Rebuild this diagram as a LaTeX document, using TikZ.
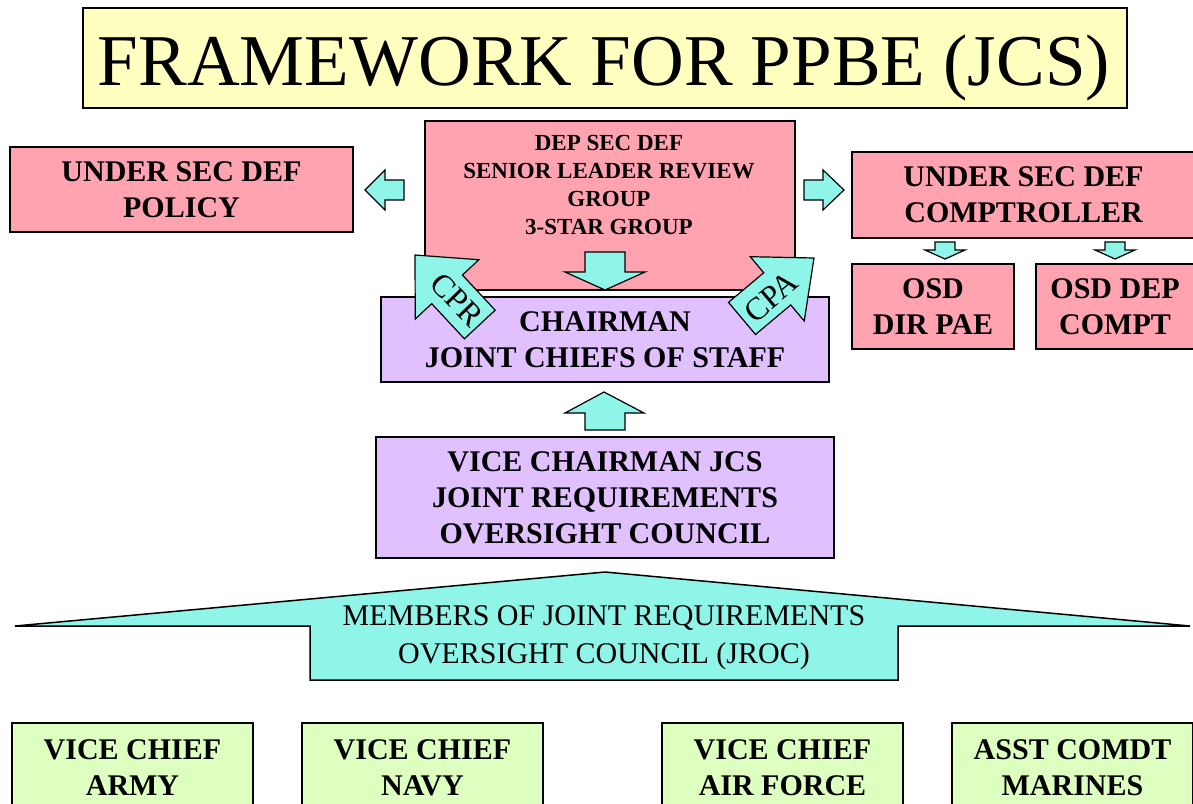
\documentclass[tikz,border=0pt]{standalone}
\usepackage{fontspec}
\setmainfont{Liberation Serif}
\definecolor{pinkc}{RGB}{255,163,177}
\definecolor{purplec}{RGB}{224,192,255}
\definecolor{cyanc}{RGB}{143,245,232}
\definecolor{greenc}{RGB}{221,255,192}
\definecolor{yellowc}{RGB}{255,255,192}
\begin{document}
\begin{tikzpicture}[x=1pt,y=-1pt,
  box/.style={draw=black, line width=1.5pt, inner sep=0pt, align=center,
    font=\bfseries\fontsize{30}{36}\selectfont},
  pinkbox/.style={box, fill=pinkc},
  purplebox/.style={box, fill=purplec},
  greenbox/.style={box, fill=greenc, minimum width=241, minimum height=90},
  blockarrow/.style={draw=black, line width=1.2pt, fill=cyanc, line join=miter},
  arrowlabel/.style={font=\fontsize{32}{34}\selectfont, inner sep=0pt}]
\useasboundingbox (0,0) rectangle (1193,803);
\clip (0,0) rectangle (1193,803);
% title
\node[draw=black, line width=1.5pt, fill=yellowc, minimum width=1044, minimum height=100, inner sep=0pt] (title) at (605,58) {};
\node[anchor=base, inner sep=0pt, font=\fontsize{73}{80}\selectfont] (titletext) at (604,85) {FRAMEWORK FOR PPBE (JCS)};
% top row
\node[pinkbox, minimum width=343, minimum height=85] (policy) at (181.5,189.5) {UNDER SEC DEF\\POLICY};
\node[pinkbox, minimum width=370, minimum height=169] (dsd) at (610,205.5) {};
\node[inner sep=0pt, align=center, font=\bfseries\fontsize{23}{28}\selectfont] (dsdtext) at (609,184.5)
  {DEP SEC DEF\\SENIOR LEADER REVIEW\\GROUP\\3-STAR GROUP};
\node[pinkbox, minimum width=343, minimum height=86] (compt) at (1023.5,195) {UNDER SEC DEF\\COMPTROLLER};
\node[pinkbox, minimum width=162, minimum height=85] (pae) at (933,306.5) {OSD\\DIR PAE};
\node[pinkbox, minimum width=158, minimum height=85] (depcompt) at (1115,306.5) {OSD DEP\\COMPT};
% chairman and vice chairman
\node[purplebox, minimum width=448, minimum height=85] (cjcs) at (605,339.5) {CHAIRMAN\\JOINT CHIEFS OF STAFF};
\node[purplebox, minimum width=458, minimum height=121] (vcjcs) at (605,497.5) {VICE CHAIRMAN JCS\\JOINT REQUIREMENTS\\OVERSIGHT COUNCIL};
% block arrows
\draw[blockarrow] (365,190) -- (385,170) -- (385,180) -- (404,180) -- (404,200) -- (385,200) -- (385,210) -- cycle;
\draw[blockarrow] (844,190) -- (823,170) -- (823,180) -- (804,180) -- (804,200) -- (823,200) -- (823,210) -- cycle;
\draw[blockarrow] (605,290) -- (565,272) -- (585,272) -- (585,252) -- (625,252) -- (625,272) -- (645,272) -- cycle;
\draw[blockarrow] (604,392) -- (565,413) -- (585,413) -- (585,430) -- (625,430) -- (625,413) -- (644,413) -- cycle;
\draw[blockarrow] (945,259) -- (925,250) -- (935,250) -- (935,242) -- (955,242) -- (955,250) -- (965,250) -- cycle;
\draw[blockarrow] (1115,259) -- (1095,250) -- (1105,250) -- (1105,242) -- (1125,242) -- (1125,250) -- (1135,250) -- cycle;
\begin{scope}[shift={(415,255)}, rotate=133]
  \draw[blockarrow] (0,0) -- (-47,43.5) -- (-47,21) -- (-95,21) -- (-95,-21) -- (-47,-21) -- (-47,-43.5) -- cycle;
\end{scope}
\begin{scope}[shift={(814,258)}, rotate=40]
  \draw[blockarrow] (0,0) -- (-48,42) -- (-48,21) -- (-94,21) -- (-94,-21) -- (-48,-21) -- (-48,-42) -- cycle;
\end{scope}
\node[arrowlabel, rotate=-46] (cpr) at (457,300) {CPR};
\node[arrowlabel, rotate=40] (cpa) at (771,297) {CPA};
% JROC
\draw[blockarrow, line width=1.5pt] (15,626) -- (605,572) -- (1190,626) -- (898,626) -- (898,680) -- (310,680) -- (310,626) -- cycle;
\node[inner sep=0pt, align=center, font=\fontsize{30}{38}\selectfont] (jroc) at (604,638)
  {MEMBERS OF JOINT REQUIREMENTS\\OVERSIGHT COUNCIL (JROC)};
% bottom row
\node[greenbox] (army) at (132.5,768) {VICE CHIEF\\ARMY};
\node[greenbox] (navy) at (422.5,768) {VICE CHIEF\\NAVY};
\node[greenbox] (af) at (782.5,768) {VICE CHIEF\\AIR FORCE};
\node[greenbox] (usmc) at (1072.5,768) {ASST COMDT\\MARINES};
\end{tikzpicture}
\end{document}
